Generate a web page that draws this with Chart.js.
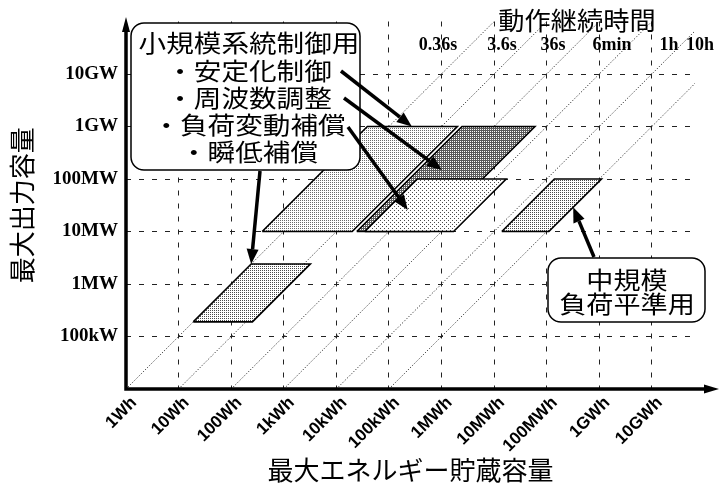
<!DOCTYPE html>
<html>
<head>
<meta charset="utf-8">
<script src="https://cdn.jsdelivr.net/npm/chart.js@4/dist/chart.umd.min.js"></script>
<style>
  html, body { margin: 0; padding: 0; background: #fff; }
  #wrap { width: 723px; height: 499px; }
</style>
</head>
<body>
<div id="wrap"><canvas id="c" width="723" height="499"></canvas></div>
<script>
// Energy axis (Wh)
const energyTicks = [1, 10, 100, 1e3, 1e4, 1e5, 1e6, 1e7, 1e8, 1e9, 1e10];
const energyLabels = ['1Wh', '10Wh', '100Wh', '1kWh', '10kWh', '100kWh', '1MWh', '10MWh', '100MWh', '1GWh', '10GWh'];
// Power axis (W)
const powerTicks = [1e5, 1e6, 1e7, 1e8, 1e9, 1e10];
const powerLabels = ['100kW', '1MW', '10MW', '100MW', '1GW', '10GW'];
// Constant operating-duration guide lines (seconds)
const durations = [0.36, 3.6, 36, 360, 3600, 36000];
const durationLabels = ['0.36s', '3.6s', '36s', '6min', '1h', '10h'];
// Application regions: power range (W) and operating duration range (s)
const regionNames = ['瞬低補償', '安定化制御', '周波数調整', '負荷変動補償', '負荷平準'];
const regionPowerMin = [1.9e5, 1e7, 1e7, 1e7, 1e7];
const regionPowerMax = [2.4e6, 1e9, 1e9, 1e8, 1e8];
const regionTimeMin = [0.36, 0.14, 8.8, 12.5, 5040];
const regionTimeMax = [4.8, 7.2, 215, 610, 39600];

const JP = '"Noto Sans CJK JP", "Noto Sans CJK SC", sans-serif';
const SERIF = '"Liberation Serif", "Times New Roman", serif';
const SANS = '"Liberation Sans", Arial, sans-serif';

function makePattern(tile, dots, ink) {
  const c = document.createElement('canvas');
  c.width = tile; c.height = tile;
  const g = c.getContext('2d');
  g.fillStyle = '#fff';
  g.fillRect(0, 0, tile, tile);
  g.fillStyle = ink;
  dots.forEach(([x, y]) => g.fillRect(x, y, 1, 1));
  return g.createPattern(c, 'repeat');
}

const regionFills = [
  makePattern(2, [[0, 0]], '#4a4a4a'),
  makePattern(2, [[0, 0]], '#6a6a6a'),
  makePattern(2, [[0, 0], [1, 1], [1, 0]], '#5a5a5a'),
  makePattern(4, [[0, 0], [2, 2]], '#4a4a4a'),
  makePattern(2, [[0, 0]], '#4a4a4a')
];
const regionOrder = [3, 3, 6, 4, 3];

// corners of a region: edges at constant power and constant duration
function regionCorners(i) {
  const p0 = regionPowerMin[i], p1 = regionPowerMax[i];
  const h0 = regionTimeMin[i] / 3600, h1 = regionTimeMax[i] / 3600;
  return [
    { x: p0 * h0, y: p0 }, { x: p0 * h1, y: p0 },
    { x: p1 * h1, y: p1 }, { x: p1 * h0, y: p1 },
    { x: p0 * h0, y: p0 }
  ];
}

const P_MIN = 1e4, P_MAX = 1e11;
const E_MIN = 1, E_MAX = Math.pow(10, 10.82);

const datasets = [];
durations.forEach((t, i) => {
  const h = t / 3600;
  datasets.push({
    label: durationLabels[i],
    data: [{ x: P_MIN * h, y: P_MIN }, { x: P_MAX * h, y: P_MAX }],
    showLine: true, fill: false, pointRadius: 0,
    borderColor: '#333', borderWidth: 1, borderDash: [1.2, 1.8],
    order: 20
  });
});
regionNames.forEach((n, i) => {
  datasets.push({
    label: n,
    data: regionCorners(i),
    showLine: true, fill: 'shape', pointRadius: 0, tension: 0,
    backgroundColor: regionFills[i], borderColor: '#000', borderWidth: 1.6,
    borderJoinStyle: 'miter',
    order: regionOrder[i]
  });
});

function arrow(ctx, x0, y0, x1, y1, w, len, half) {
  const a = Math.atan2(y1 - y0, x1 - x0);
  const bx = x1 - len * Math.cos(a), by = y1 - len * Math.sin(a);
  ctx.lineWidth = w;
  ctx.beginPath(); ctx.moveTo(x0, y0); ctx.lineTo(bx, by); ctx.stroke();
  ctx.beginPath();
  ctx.moveTo(x1, y1);
  ctx.lineTo(bx + half * Math.sin(a), by - half * Math.cos(a));
  ctx.lineTo(bx - half * Math.sin(a), by + half * Math.cos(a));
  ctx.closePath(); ctx.fill();
}

function wideText(ctx, text, cx, cy, size, sx) {
  ctx.save();
  ctx.translate(cx, cy);
  ctx.scale(sx, 1);
  ctx.font = size + 'px ' + JP;
  ctx.textAlign = 'center';
  ctx.textBaseline = 'middle';
  ctx.fillText(text, 0, 0);
  ctx.restore();
}

// pixel position of a (power, duration) point
function px(chart, p, t) {
  return [chart.scales.x.getPixelForValue(p * t / 3600), chart.scales.y.getPixelForValue(p)];
}

const overlay = {
  id: 'overlay',
  afterDatasetsDraw(chart) {
    const ctx = chart.ctx;
    ctx.save();
    ctx.strokeStyle = '#000'; ctx.fillStyle = '#000';

    // small-scale system control callout
    ctx.beginPath(); ctx.roundRect(131, 23, 229, 147, 13);
    ctx.fillStyle = '#fff'; ctx.fill();
    ctx.lineWidth = 1.5; ctx.strokeStyle = '#000'; ctx.stroke();
    ctx.fillStyle = '#000';
    const lines1 = ['小規模系統制御用', '・安定化制御', '・周波数調整', '・負荷変動補償', '・瞬低補償'];
    const ys1 = [43, 71, 98, 125, 152];
    lines1.forEach((s, i) => wideText(ctx, s, 249, ys1[i], 24, 1.15));

    // mid-scale load leveling callout
    ctx.beginPath(); ctx.roundRect(548, 258, 157, 64, 13);
    ctx.fillStyle = '#fff'; ctx.fill();
    ctx.lineWidth = 1.5; ctx.stroke();
    ctx.fillStyle = '#000';
    wideText(ctx, '中規模', 627, 280, 24, 1.13);
    wideText(ctx, '負荷平準用', 627, 304, 24, 1.13);

    // leader arrows
    const t1 = px(chart, regionPowerMax[1], 0.98);
    const t2 = px(chart, 1.48e8, 24.7);
    const t3 = px(chart, 2.57e7, 32);
    const t4 = px(chart, regionPowerMax[0], regionTimeMin[0]);
    const t5 = px(chart, 2.9e7, regionTimeMax[4]);
    arrow(ctx, 341, 71, t1[0], t1[1], 3.5, 15, 6);
    arrow(ctx, 344, 98, t2[0], t2[1], 3.5, 15, 6);
    arrow(ctx, 348, 127, t3[0], t3[1], 3.5, 15, 6);
    arrow(ctx, 260, 171, t4[0], t4[1], 3.5, 15, 6);
    arrow(ctx, 594, 257, t5[0], t5[1], 3.5, 15, 6);
    ctx.restore();
  },
  afterDraw(chart) {
    const ctx = chart.ctx;
    const a = chart.chartArea;
    ctx.save();
    ctx.strokeStyle = '#000'; ctx.fillStyle = '#000';
    // axes with arrowheads
    ctx.lineWidth = 3.5;
    ctx.beginPath();
    ctx.moveTo(a.left, a.bottom + 1.7); ctx.lineTo(a.left, 30);
    ctx.moveTo(a.left - 1.7, a.bottom); ctx.lineTo(706, a.bottom);
    ctx.stroke();
    ctx.beginPath();
    ctx.moveTo(a.left, 17); ctx.lineTo(a.left - 4, 32); ctx.lineTo(a.left + 4, 32); ctx.closePath(); ctx.fill();
    ctx.beginPath();
    ctx.moveTo(719, a.bottom); ctx.lineTo(704, a.bottom - 4.5); ctx.lineTo(704, a.bottom + 4.5); ctx.closePath(); ctx.fill();

    // duration labels
    ctx.font = 'bold 18px ' + SERIF;
    ctx.textAlign = 'center'; ctx.textBaseline = 'middle';
    const lx = [438, 502, 553, 612, 669, 700];
    durationLabels.forEach((s, i) => ctx.fillText(s, lx[i], 45));
    wideText(ctx, '動作継続時間', 577, 20, 25, 1.05);
    ctx.restore();
  }
};

new Chart(document.getElementById('c'), {
  type: 'scatter',
  data: { datasets },
  plugins: [overlay],
  options: {
    responsive: false,
    animation: false,
    devicePixelRatio: 1,
    layout: { padding: { top: 21.5, right: 28, left: 0, bottom: 0 } },
    plugins: { legend: { display: false }, tooltip: { enabled: false } },
    scales: {
      x: {
        type: 'logarithmic', min: E_MIN, max: E_MAX,
        afterBuildTicks(s) { s.ticks = energyTicks.map(v => ({ value: v })); },
        afterFit(s) { s.height = 110; },
        ticks: {
          autoSkip: false, minRotation: 45, maxRotation: 45, padding: 4, labelOffset: 8, color: '#000',
          font: { family: SANS, weight: 'bold', size: 17 },
          callback: (v, i) => energyLabels[i]
        },
        grid: { color: '#222', lineWidth: 1, drawTicks: false },
        border: { display: false, dash: [5, 8] },
        title: {
          display: true, text: '最大エネルギー貯蔵容量', color: '#000',
          font: { family: JP, size: 26, lineHeight: 1 }, padding: { top: 0, bottom: 16 }
        }
      },
      y: {
        type: 'logarithmic', min: P_MIN, max: P_MAX,
        afterBuildTicks(s) { s.ticks = powerTicks.map(v => ({ value: v })); },
        afterFit(s) { s.width = 126; },
        ticks: {
          autoSkip: false, padding: 8, color: '#000',
          font: { family: SERIF, weight: 'bold', size: 19 },
          callback: (v, i) => powerLabels[i]
        },
        grid: { color: '#222', lineWidth: 1, drawTicks: false },
        border: { display: false, dash: [5, 8] },
        title: {
          display: true, text: '最大出力容量', color: '#000',
          font: { family: JP, size: 26, lineHeight: 1 }, padding: { top: 9, bottom: 0 }
        }
      }
    }
  }
});
</script>
</body>
</html>
